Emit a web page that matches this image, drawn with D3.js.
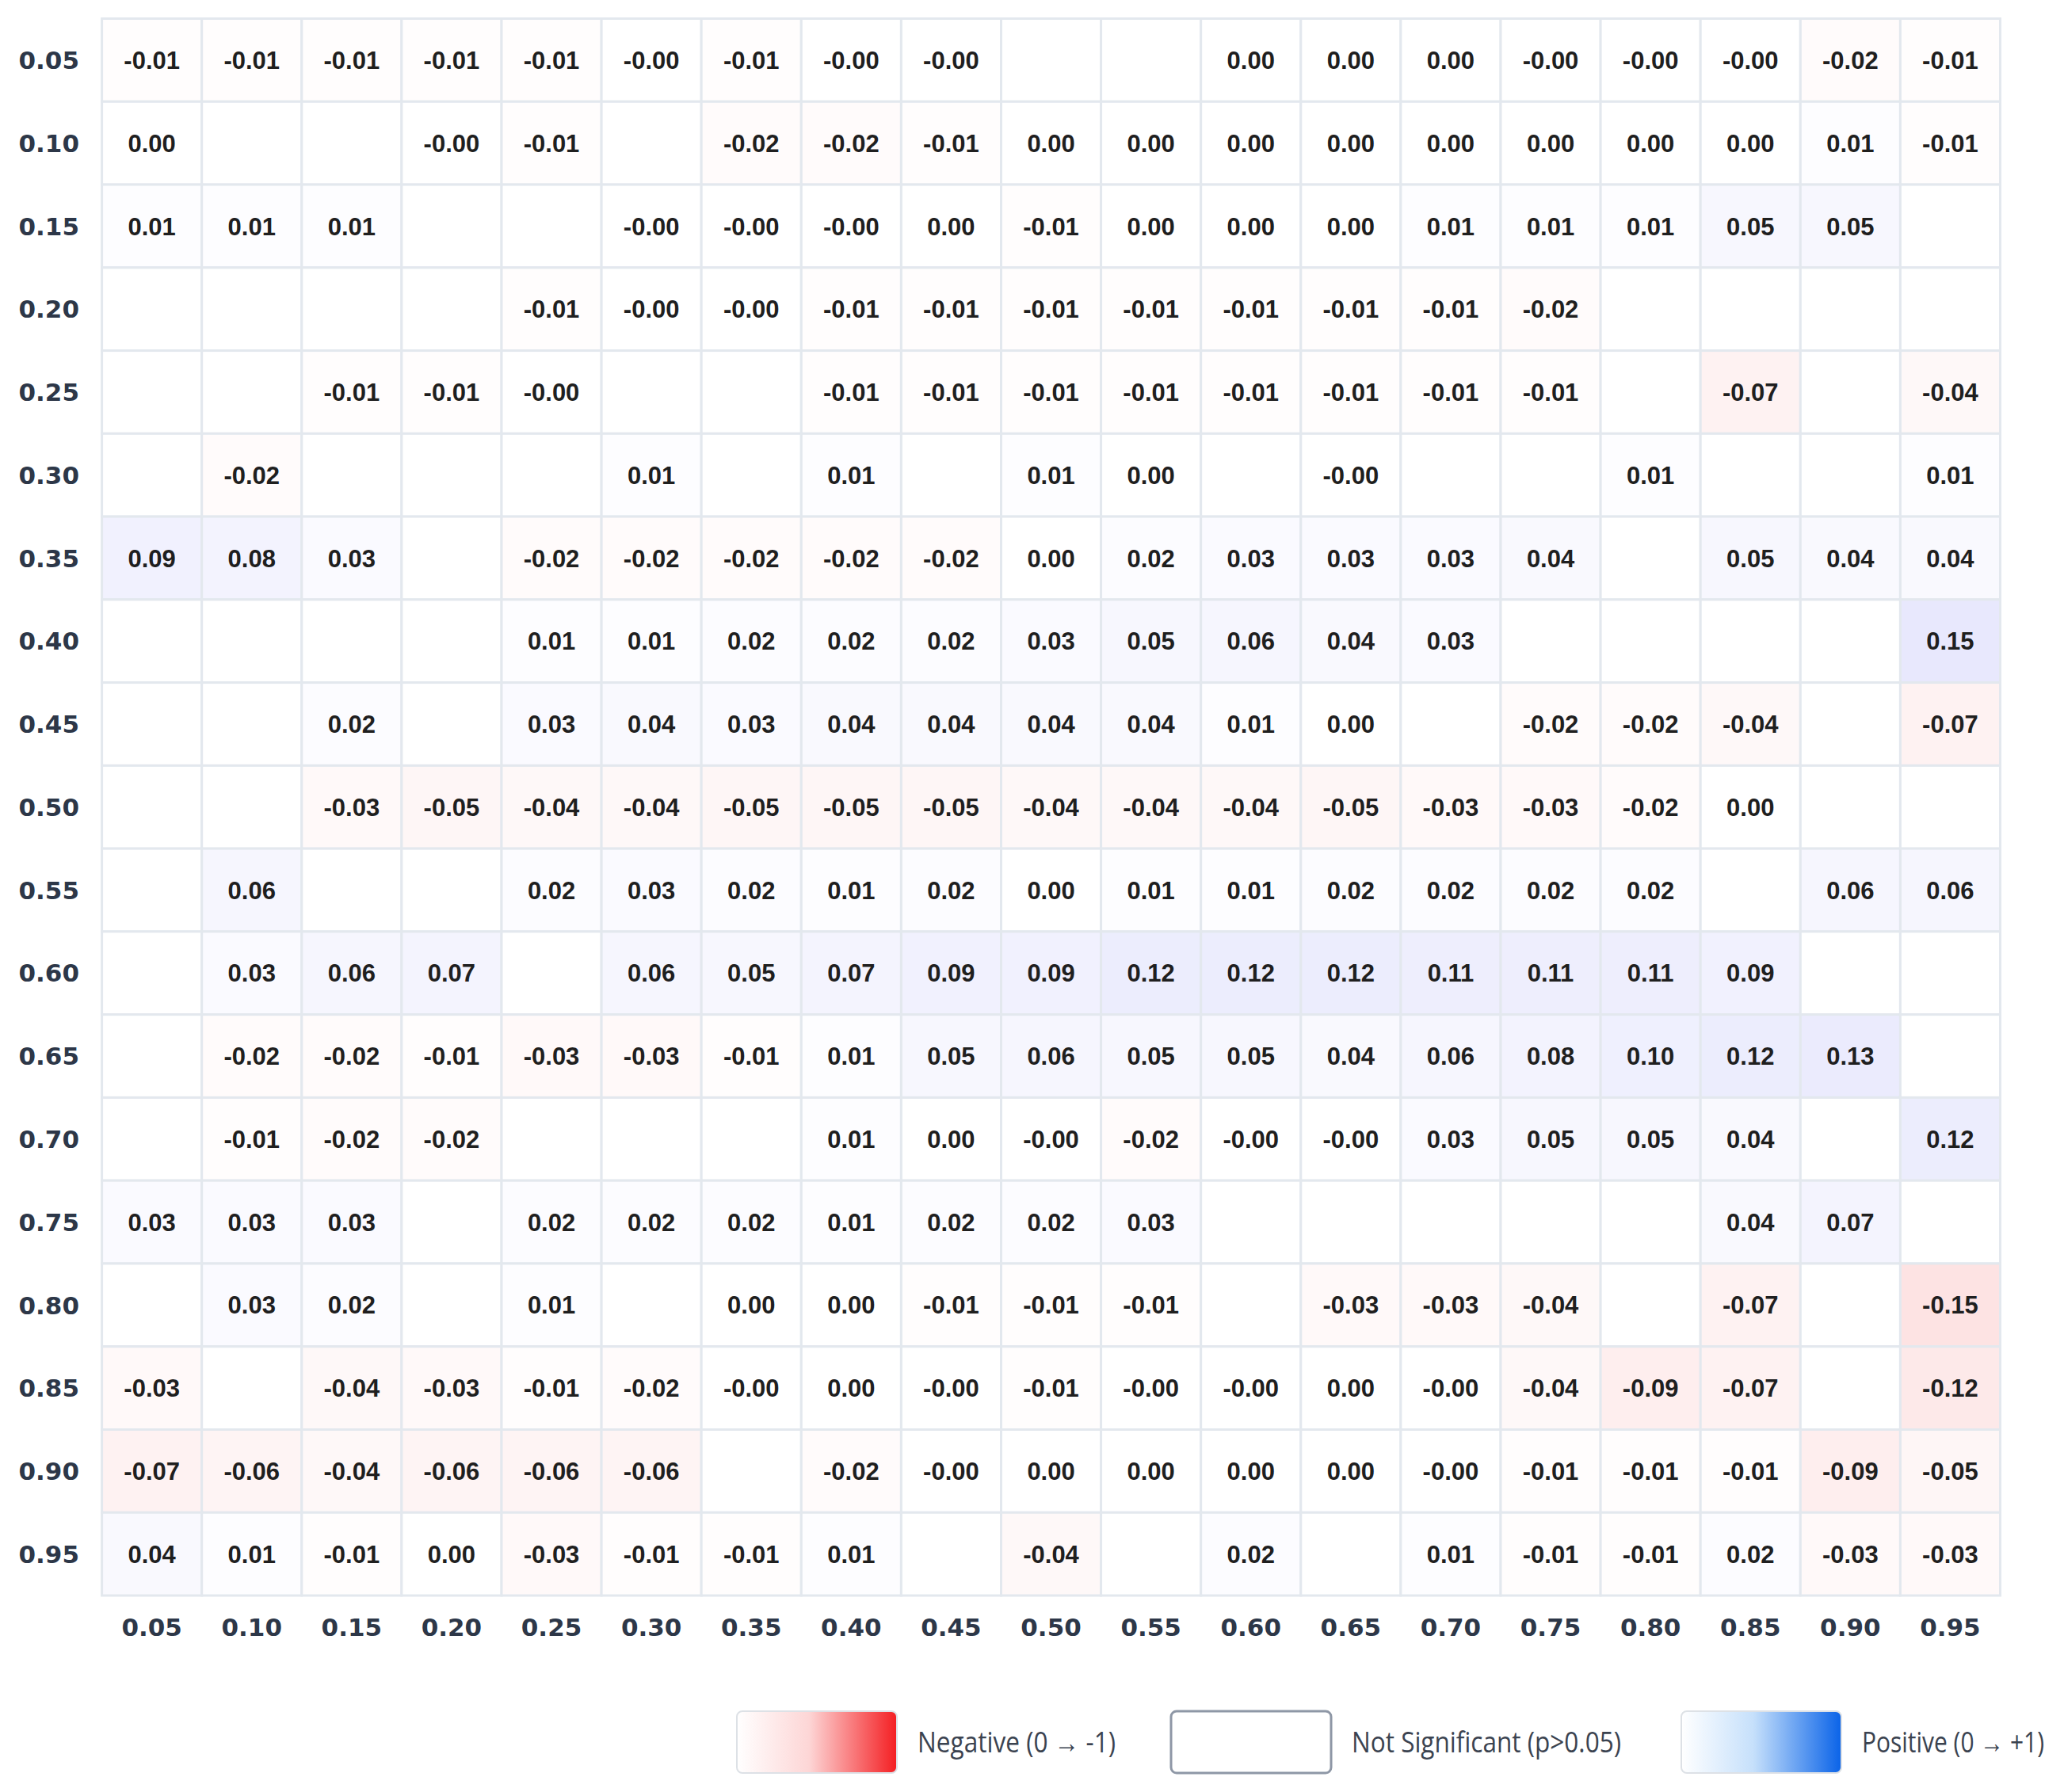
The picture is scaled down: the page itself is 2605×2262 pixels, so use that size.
<!DOCTYPE html>
<html>
<head>
<meta charset="utf-8">
<script src="https://cdn.jsdelivr.net/npm/d3@7"></script>
<style>
  body { margin: 0; background: #fff; }
</style>
</head>
<body>
<svg id="chart" width="2605" height="2262"></svg>
<script>
"use strict";

// column / row labels (lag values)
let xLabels = ["0.05","0.10","0.15","0.20","0.25","0.30","0.35","0.40","0.45","0.50",
               "0.55","0.60","0.65","0.70","0.75","0.80","0.85","0.90","0.95"];
let yLabels = xLabels.slice();

// correlation per row, null = not significant (p>0.05); -0 shows as "-0.00"
let r05 = [-0.01,-0.01,-0.01,-0.01,-0.01,-0,-0.01,-0,-0,null,null,0.00,0.00,0.00,-0,-0,-0,-0.02,-0.01];
let r10 = [0.00,null,null,-0,-0.01,null,-0.02,-0.02,-0.01,0.00,0.00,0.00,0.00,0.00,0.00,0.00,0.00,0.01,-0.01];
let r15 = [0.01,0.01,0.01,null,null,-0,-0,-0,0.00,-0.01,0.00,0.00,0.00,0.01,0.01,0.01,0.05,0.05,null];
let r20 = [null,null,null,null,-0.01,-0,-0,-0.01,-0.01,-0.01,-0.01,-0.01,-0.01,-0.01,-0.02,null,null,null,null];
let r25 = [null,null,-0.01,-0.01,-0,null,null,-0.01,-0.01,-0.01,-0.01,-0.01,-0.01,-0.01,-0.01,null,-0.07,null,-0.04];
let r30 = [null,-0.02,null,null,null,0.01,null,0.01,null,0.01,0.00,null,-0,null,null,0.01,null,null,0.01];
let r35 = [0.09,0.08,0.03,null,-0.02,-0.02,-0.02,-0.02,-0.02,0.00,0.02,0.03,0.03,0.03,0.04,null,0.05,0.04,0.04];
let r40 = [null,null,null,null,0.01,0.01,0.02,0.02,0.02,0.03,0.05,0.06,0.04,0.03,null,null,null,null,0.15];
let r45 = [null,null,0.02,null,0.03,0.04,0.03,0.04,0.04,0.04,0.04,0.01,0.00,null,-0.02,-0.02,-0.04,null,-0.07];
let r50 = [null,null,-0.03,-0.05,-0.04,-0.04,-0.05,-0.05,-0.05,-0.04,-0.04,-0.04,-0.05,-0.03,-0.03,-0.02,0.00,null,null];
let r55 = [null,0.06,null,null,0.02,0.03,0.02,0.01,0.02,0.00,0.01,0.01,0.02,0.02,0.02,0.02,null,0.06,0.06];
let r60 = [null,0.03,0.06,0.07,null,0.06,0.05,0.07,0.09,0.09,0.12,0.12,0.12,0.11,0.11,0.11,0.09,null,null];
let r65 = [null,-0.02,-0.02,-0.01,-0.03,-0.03,-0.01,0.01,0.05,0.06,0.05,0.05,0.04,0.06,0.08,0.10,0.12,0.13,null];
let r70 = [null,-0.01,-0.02,-0.02,null,null,null,0.01,0.00,-0,-0.02,-0,-0,0.03,0.05,0.05,0.04,null,0.12];
let r75 = [0.03,0.03,0.03,null,0.02,0.02,0.02,0.01,0.02,0.02,0.03,null,null,null,null,null,0.04,0.07,null];
let r80 = [null,0.03,0.02,null,0.01,null,0.00,0.00,-0.01,-0.01,-0.01,null,-0.03,-0.03,-0.04,null,-0.07,null,-0.15];
let r85 = [-0.03,null,-0.04,-0.03,-0.01,-0.02,-0,0.00,-0,-0.01,-0,-0,0.00,-0,-0.04,-0.09,-0.07,null,-0.12];
let r90 = [-0.07,-0.06,-0.04,-0.06,-0.06,-0.06,null,-0.02,-0,0.00,0.00,0.00,0.00,-0,-0.01,-0.01,-0.01,-0.09,-0.05];
let r95 = [0.04,0.01,-0.01,0.00,-0.03,-0.01,-0.01,0.01,null,-0.04,null,0.02,null,0.01,-0.01,-0.01,0.02,-0.03,-0.03];

let rows = [r05,r10,r15,r20,r25,r30,r35,r40,r45,r50,r55,r60,r65,r70,r75,r80,r85,r90,r95];

let legendLabels = ["Negative (0 \u2192 -1)", "Not Significant (p>0.05)", "Positive (0 \u2192 +1)"];

// flatten into cells
let cells = [];
rows.forEach((row, i) => {
  row.forEach((v, j) => cells.push({ row: yLabels[i], col: xLabels[j], value: v }));
});

let svg = d3.select("#chart");

let x = d3.scaleBand().domain(xLabels).range([128.6, 2524.5]);
let y = d3.scaleBand().domain(yLabels).range([23.5, 2014]);

let color = d3.scaleLinear()
  .domain([-1, 0, 1])
  .range(["#ef4444", "#ffffff", "#6366f1"])
  .interpolate(d3.interpolateRgb);

let fmt = v => (v < 0 || Object.is(v, -0) ? "-" : "") + Math.abs(v).toFixed(2);

// cells
svg.append("g")
  .selectAll("rect")
  .data(cells)
  .enter()
  .append("rect")
  .attr("x", d => x(d.col))
  .attr("y", d => y(d.row))
  .attr("width", x.bandwidth())
  .attr("height", y.bandwidth())
  .attr("fill", d => d.value === null ? "#ffffff" : color(d.value))
  .attr("stroke", "#e3e8ee")
  .attr("stroke-width", 3);

// values
svg.append("g")
  .selectAll("text")
  .data(cells.filter(d => d.value !== null))
  .enter()
  .append("text")
  .attr("x", d => x(d.col) + x.bandwidth() / 2)
  .attr("y", d => y(d.row) + y.bandwidth() / 2)
  .attr("text-anchor", "middle")
  .attr("dy", "0.36em")
  .attr("fill", "#1f1f1f")
  .style("font-family", "Arial, 'Liberation Sans', Helvetica, sans-serif")
  .style("font-weight", "bold")
  .style("font-size", "31px")
  .text(d => fmt(d.value));

// axes
let yAxis = svg.append("g")
  .attr("transform", "translate(100, 0)")
  .call(d3.axisLeft(y).tickSize(0).tickPadding(0));

let xAxis = svg.append("g")
  .attr("transform", `translate(0, ${y.range()[1] + 40})`)
  .call(d3.axisBottom(x).tickSize(0).tickPadding(0));

[yAxis, xAxis].forEach(ax => {
  ax.select(".domain").remove();
  ax.selectAll("text")
    .attr("fill", "#2d3748")
    .style("font-family", "'DejaVu Sans', sans-serif")
    .style("font-weight", "bold")
    .style("font-size", "31px");
});
yAxis.selectAll("text").attr("dy", "0.36em");
xAxis.selectAll("text").attr("dy", "0.36em").attr("y", 0);

// legend
let defs = svg.append("defs");
let negGrad = defs.append("linearGradient").attr("id", "negGrad");
negGrad.append("stop").attr("offset", "0%").attr("stop-color", "#ffffff");
negGrad.append("stop").attr("offset", "45%").attr("stop-color", "#fdd6d6");
negGrad.append("stop").attr("offset", "100%").attr("stop-color", "#f41e22");
let posGrad = defs.append("linearGradient").attr("id", "posGrad");
posGrad.append("stop").attr("offset", "0%").attr("stop-color", "#ffffff");
posGrad.append("stop").attr("offset", "45%").attr("stop-color", "#c6e0fb");
posGrad.append("stop").attr("offset", "100%").attr("stop-color", "#0a63e8");

let legendX = [930, 1478, 2122];
let legendTextW = [250, 340, 230];
let legendFill = ["url(#negGrad)", "#ffffff", "url(#posGrad)"];
let legend = svg.append("g");

legendLabels.forEach((label, i) => {
  legend.append("rect")
    .attr("x", legendX[i])
    .attr("y", 2160)
    .attr("width", 202)
    .attr("height", 78)
    .attr("rx", 7)
    .attr("fill", legendFill[i])
    .attr("stroke", i === 1 ? "#8e97a6" : "#dde1e6")
    .attr("stroke-width", i === 1 ? 3 : 2);
  legend.append("text")
    .attr("x", legendX[i] + 228)
    .attr("y", 2199)
    .attr("dy", "0.35em")
    .attr("fill", "#3b4350")
    .attr("textLength", legendTextW[i])
    .attr("lengthAdjust", "spacingAndGlyphs")
    .style("font-family", "'Open Sans', 'Noto Sans', sans-serif")
    .style("font-size", "36px")
    .text(label);
});
</script>
</body>
</html>
